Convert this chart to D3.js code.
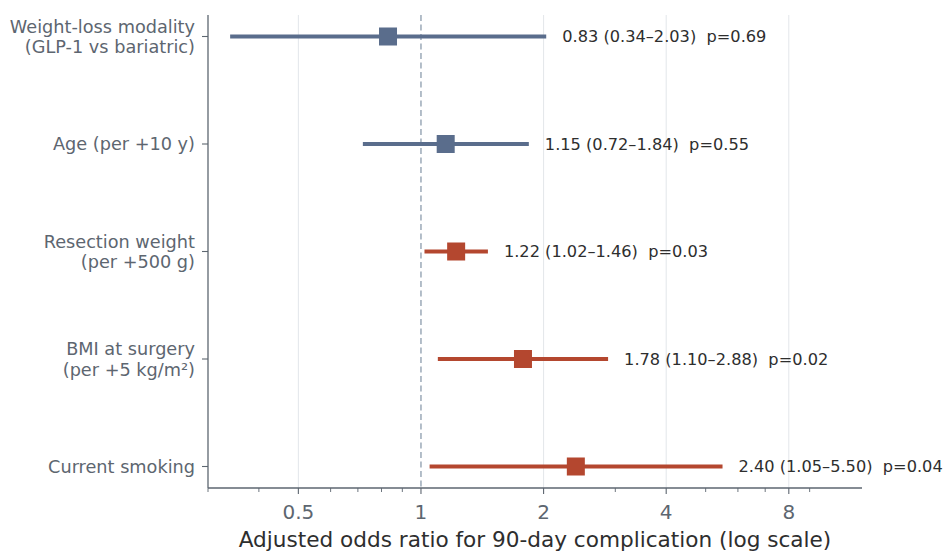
<!DOCTYPE html>
<html>
<head>
<meta charset="utf-8">
<script src="https://cdn.jsdelivr.net/npm/d3@7"></script>
<style>
  html, body { margin: 0; padding: 0; background: #fff; }
  svg { display: block; font-family: "DejaVu Sans", sans-serif; }
</style>
</head>
<body>
<svg id="chart" width="943" height="552"></svg>
<script>
(function () {
// ── data ────────────────────────────────────────────────
const labels = [
  ["Weight-loss modality", "(GLP-1 vs bariatric)"],
  ["Age (per +10 y)"],
  ["Resection weight", "(per +500 g)"],
  ["BMI at surgery", "(per +5 kg/m²)"],
  ["Current smoking"]
];
const orValues = [0.83, 1.15, 1.22, 1.78, 2.40];
const ciLow   = [0.34, 0.72, 1.02, 1.10, 1.05];
const ciHigh  = [2.03, 1.84, 1.46, 2.88, 5.50];
const pValues = ["0.69", "0.55", "0.03", "0.02", "0.04"];
const majorTicks = [0.5, 1, 2, 4, 8];
const minorTicks = [0.3, 0.4, 0.6, 0.7, 0.8, 0.9, 3, 5, 6, 7, 9];

const BLUE = "#5a6d8c", RED = "#b4472f";
const AXIS = "#5d6670", TEXT = "#2e2e2e";

const svg = d3.select("#chart");
const L = 208, R = 862, T = 15, B = 488;

const x = d3.scaleLog().domain([0.3, 12.1]).range([L, R]);
const idx = d3.range(labels.length);
const y = d3.scalePoint().domain(idx).range([T, B]).padding(0.2);

// grid at major ticks (skip 1, which gets the dashed reference)
svg.append("g").selectAll("line")
  .data(majorTicks.filter(t => t !== 1)).join("line")
  .attr("x1", d => x(d)).attr("x2", d => x(d))
  .attr("y1", T).attr("y2", B)
  .attr("stroke", "#e3e6ea").attr("stroke-width", 1);

// reference line at OR = 1
svg.append("line")
  .attr("x1", x(1)).attr("x2", x(1))
  .attr("y1", T).attr("y2", B)
  .attr("stroke", "#94a3b3").attr("stroke-width", 1.4)
  .attr("stroke-dasharray", "6,3.5");

// rows
const rows = svg.append("g").selectAll("g")
  .data(idx).join("g");

rows.append("line")
  .attr("x1", i => x(ciLow[i])).attr("x2", i => x(ciHigh[i]))
  .attr("y1", i => y(i)).attr("y2", i => y(i))
  .attr("stroke", i => orValues[i] < 1.2 ? BLUE : RED)
  .attr("stroke-width", 3.8);

const sq = 18;
rows.append("rect")
  .attr("x", i => x(orValues[i]) - sq / 2)
  .attr("y", i => y(i) - sq / 2)
  .attr("width", sq).attr("height", sq)
  .attr("fill", i => orValues[i] < 1.2 ? BLUE : RED);

rows.append("text")
  .attr("x", i => x(ciHigh[i]) + 16)
  .attr("y", i => y(i))
  .attr("dy", "0.36em")
  .attr("fill", TEXT)
  .style("font-size", "16.2px")
  .style("white-space", "pre")
  .text(i => `${orValues[i].toFixed(2)} (${ciLow[i].toFixed(2)}–${ciHigh[i].toFixed(2)})  p=${pValues[i]}`);

// y axis
svg.append("line")
  .attr("x1", L).attr("x2", L).attr("y1", T).attr("y2", B)
  .attr("stroke", AXIS).attr("stroke-width", 1.3);
const yt = svg.append("g").selectAll("g").data(idx).join("g");
yt.append("line")
  .attr("x1", L - 6).attr("x2", L)
  .attr("y1", i => y(i)).attr("y2", i => y(i))
  .attr("stroke", AXIS).attr("stroke-width", 1.1);
yt.append("text")
  .attr("text-anchor", "end")
  .attr("fill", AXIS)
  .style("font-size", "17.7px")
  .each(function (i) {
    const lines = labels[i];
    const t = d3.select(this);
    const lh = 20.5;
    lines.forEach((s, k) => {
      t.append("tspan")
        .attr("x", L - 13)
        .attr("y", y(i) + (k - (lines.length - 1) / 2) * lh)
        .attr("dy", "0.36em")
        .text(s);
    });
  });

// x axis
svg.append("line")
  .attr("x1", L).attr("x2", R).attr("y1", B).attr("y2", B)
  .attr("stroke", AXIS).attr("stroke-width", 1.3);
svg.append("g").selectAll("line").data(minorTicks).join("line")
  .attr("x1", d => x(d)).attr("x2", d => x(d))
  .attr("y1", B).attr("y2", B + 4)
  .attr("stroke", AXIS).attr("stroke-width", 0.9);
const xt = svg.append("g").selectAll("g").data(majorTicks).join("g");
xt.append("line")
  .attr("x1", d => x(d)).attr("x2", d => x(d))
  .attr("y1", B).attr("y2", B + 6)
  .attr("stroke", AXIS).attr("stroke-width", 1.1);
xt.append("text")
  .attr("x", d => x(d)).attr("y", B + 31)
  .attr("text-anchor", "middle")
  .attr("fill", AXIS)
  .style("font-size", "20px")
  .text(d => d3.format("")(d));

svg.append("text")
  .attr("x", (L + R) / 2).attr("y", 547)
  .attr("text-anchor", "middle")
  .attr("fill", TEXT)
  .style("font-size", "21.6px")
  .text("Adjusted odds ratio for 90-day complication (log scale)");
})();
</script>
</body>
</html>
